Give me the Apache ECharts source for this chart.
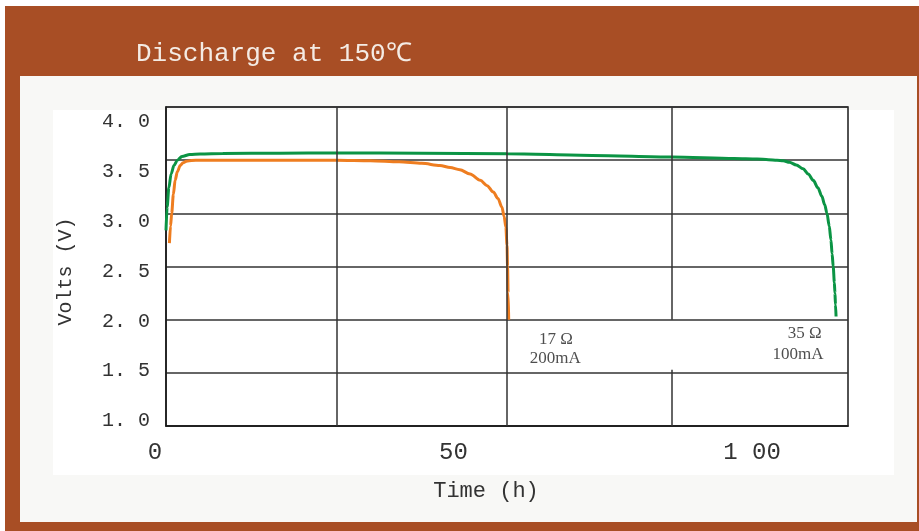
<!DOCTYPE html>
<html><head><meta charset="utf-8">
<script src="https://cdn.jsdelivr.net/npm/echarts@6/dist/echarts.min.js"></script>
<style>html,body{margin:0;padding:0;background:#fff}#c{width:919px;height:531px}</style>
</head><body><div id="c"></div>
<script>
const titleText = 'Discharge at 150℃';
const xAxisName = 'Time (h)';
const yAxisName = 'Volts (V)';
const yTickValues = [1.0, 1.5, 2.0, 2.5, 3.0, 3.5, 4.0];
const yTickLabels = ['1. 0', '1. 5', '2. 0', '2. 5', '3. 0', '3. 5', '4. 0'];
const xTickValues = [0, 50, 100];
const xTickLabels = ['0', '50', '1 00'];
// vertical grid segments: [time, fromVolt, toVolt]
const xGridSegments = [[30, 1, 4], [60, 1, 4], [89, 2, 4], [89, 1, 1.53]];

const greenTime = [0, 0.2, 0.5, 0.9, 1.4, 2.0, 2.8, 4.2, 6, 10, 20, 30, 45, 60, 75, 89, 100, 104, 106, 107.5, 108.6, 109.7, 110.9, 112.1, 113.0, 113.9, 114.7, 115.4, 115.9, 116.3, 116.7, 117.0, 117.2, 117.4, 117.6, 117.7, 117.8, 117.9];
const greenVolt = [2.84, 3.06, 3.24, 3.37, 3.45, 3.50, 3.535, 3.553, 3.558, 3.562, 3.566, 3.567, 3.566, 3.56, 3.545, 3.53, 3.515, 3.51, 3.505, 3.50, 3.495, 3.48, 3.455, 3.42, 3.37, 3.31, 3.24, 3.16, 3.08, 3.00, 2.88, 2.75, 2.62, 2.50, 2.35, 2.25, 2.14, 2.03];
const orangeTime = [0.6, 0.8, 1.0, 1.3, 1.6, 2.0, 2.5, 3.0, 3.6, 4.5, 6, 20, 30, 36, 41, 45, 48.2, 50, 51.7, 53.5, 55.3, 56.5, 57.6, 58.4, 59.1, 59.5, 59.8, 60.0, 60.1, 60.2, 60.3];
const orangeVolt = [2.72, 2.88, 3.00, 3.18, 3.31, 3.39, 3.45, 3.475, 3.49, 3.497, 3.50, 3.50, 3.50, 3.495, 3.485, 3.47, 3.45, 3.43, 3.41, 3.37, 3.31, 3.26, 3.20, 3.14, 3.06, 2.97, 2.87, 2.70, 2.50, 2.25, 2.00];

const annoText = ['17 Ω', '200mA', '35 Ω', '100mA'];
const annoTime = [68.6, 68.5, 112.4, 111.2];
const annoVolt = [1.81, 1.63, 1.87, 1.67];

const mono = 'Liberation Mono';
const serif = 'Liberation Serif';
const zip = (a, b) => a.map((v, i) => [v, b[i]]);
const yFmt = v => { const i = yTickValues.findIndex(t => Math.abs(t - v) < 1e-6); return i >= 0 ? yTickLabels[i] : ''; };
const xFmt = v => { const i = xTickValues.indexOf(v); return i >= 0 ? xTickLabels[i] : ''; };

const chart = echarts.init(document.getElementById('c'), null, {renderer: 'canvas'});
chart.setOption({
  backgroundColor: '#ffffff',
  animation: false,
  graphic: { elements: [
    {type: 'rect', z: -100, shape: {x: 5, y: 6, width: 914, height: 525}, style: {fill: '#A84E25'}},
    {type: 'rect', z: -99, shape: {x: 20, y: 76, width: 897, height: 446}, style: {fill: '#F8F8F6'}},
    {type: 'rect', z: -98, shape: {x: 53, y: 110, width: 841, height: 365}, style: {fill: '#FFFFFF'}},
    {type: 'text', z: 10, x: 486, y: 491, style: {text: xAxisName, align: 'center', verticalAlign: 'middle', font: '22px "' + mono + '"', fill: '#333333'}}
  ]},
  title: {text: titleText, left: 131, top: 36, textStyle: {fontFamily: mono, fontSize: 26, fontWeight: 'normal', color: '#F4EBE4'}},
  grid: [
    {left: 166, right: 71, top: 107, bottom: 105, show: true, borderColor: '#1a1a1a', borderWidth: 1.5, backgroundColor: 'transparent'},
    {left: 166, right: 71, top: 122, bottom: 110},
    {left: 155, right: 167, top: 107, bottom: 105}
  ],
  xAxis: [
    {gridIndex: 0, type: 'value', min: 0, max: 120, axisLine: {show: true, lineStyle: {color: '#1a1a1a', width: 1.5}}, axisTick: {show: false}, axisLabel: {show: false}, splitLine: {show: false}},
    {gridIndex: 1, type: 'value', min: 0, max: 120, show: false},
    {gridIndex: 2, type: 'value', min: 0, max: 100, interval: 50, axisLine: {show: false}, axisTick: {show: false}, splitLine: {show: false},
     axisLabel: {margin: 15, fontFamily: mono, fontSize: 24, color: '#333', formatter: xFmt}}
  ],
  yAxis: [
    {gridIndex: 0, type: 'value', min: 1, max: 4, interval: 0.5, axisLine: {show: true, lineStyle: {color: '#1a1a1a', width: 1.5}}, axisTick: {show: false}, axisLabel: {show: false},
     splitLine: {show: true, lineStyle: {color: '#333', width: 1.5}}},
    {gridIndex: 1, type: 'value', min: 1, max: 4, interval: 0.5, axisLine: {show: false}, axisTick: {show: false}, splitLine: {show: false},
     axisLabel: {margin: 16, fontFamily: mono, fontSize: 20, color: '#333', formatter: yFmt},
     name: yAxisName, nameLocation: 'middle', nameGap: 90, nameRotate: 90, nameTextStyle: {fontFamily: mono, fontSize: 20, color: '#333'}},
    {gridIndex: 2, type: 'value', min: 1, max: 4, show: false}
  ],
  series: [
    {type: 'line', name: 'grid', xAxisIndex: 0, yAxisIndex: 0, data: [], z: 1, silent: true,
     markLine: {silent: true, symbol: 'none', label: {show: false}, lineStyle: {color: '#333', width: 1.5, type: 'solid'},
       data: xGridSegments.map(s => [{coord: [s[0], s[1]]}, {coord: [s[0], s[2]]}])}},
    {type: 'line', name: '17 Ω 200mA', xAxisIndex: 0, yAxisIndex: 0, data: zip(orangeTime, orangeVolt), showSymbol: false, smooth: 0.3, smoothMonotone: 'x',
     lineStyle: {color: '#EE7D20', width: 3}, z: 3},
    {type: 'line', name: '35 Ω 100mA', xAxisIndex: 0, yAxisIndex: 0, data: zip(greenTime, greenVolt), showSymbol: false, smooth: 0.3, smoothMonotone: 'x',
     lineStyle: {color: '#0B9444', width: 3}, z: 4},
    {type: 'scatter', xAxisIndex: 0, yAxisIndex: 0, symbolSize: 0, silent: true, z: 5,
     data: annoText.map((t, i) => ({name: t, value: [annoTime[i], annoVolt[i]]})),
     label: {show: true, position: 'inside', formatter: p => p.name, fontFamily: serif, fontSize: 17, color: '#222'}}
  ]
});
</script></body></html>
